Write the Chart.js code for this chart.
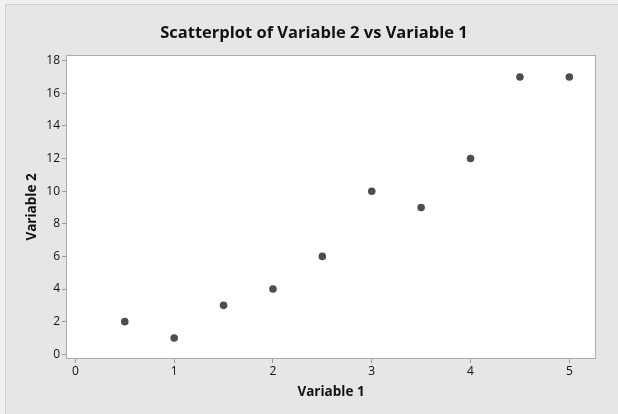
<!DOCTYPE html>
<html lang="en">
<head>
  <meta charset="UTF-8" />
  <title>Scatterplot of Variable 2 vs Variable 1</title>
  <script src="https://cdn.jsdelivr.net/npm/chart.js"></script>
  <style>
    html, body { margin: 0; padding: 0; background: #f0f0f0; overflow: hidden; }
    canvas { display: block; }
  </style>
</head>
<body>
  <canvas id="scatter" width="618" height="414"></canvas>

  <script>
    // data
    const var1 = [0.5, 1, 1.5, 2, 2.5, 3, 3.5, 4, 4.5, 5];
    const var2 = [2, 1, 3, 4, 6, 10, 9, 12, 17, 17];
    const xTicks = [0, 1, 2, 3, 4, 5];
    const yTicks = [0, 2, 4, 6, 8, 10, 12, 14, 16, 18];

    const frame = {
      id: "frame",
      beforeDraw(chart) {
        const { ctx, chartArea: a } = chart;
        ctx.save();
        // outer panel
        ctx.fillStyle = "#e6e6e6";
        ctx.fillRect(5, 4, chart.width, chart.height);
        ctx.strokeStyle = "#cfcfcf";
        ctx.lineWidth = 1;
        ctx.beginPath();
        ctx.moveTo(5.5, chart.height);
        ctx.lineTo(5.5, 4.5);
        ctx.lineTo(chart.width, 4.5);
        ctx.stroke();
        // plot area
        ctx.fillStyle = "#ffffff";
        ctx.fillRect(a.left, a.top, a.right - a.left, a.bottom - a.top);
        ctx.restore();
      },
      afterDatasetsDraw(chart) {
        const { ctx, chartArea: a } = chart;
        ctx.save();
        ctx.strokeStyle = "#ababab";
        ctx.lineWidth = 1;
        ctx.strokeRect(Math.round(a.left) + 0.5, Math.round(a.top) + 0.5,
          Math.round(a.right - a.left) - 1, Math.round(a.bottom - a.top) - 1);
        ctx.restore();
      }
    };

    const tickFont = { family: "'Open Sans', sans-serif", size: 12 };
    const titleFont = { family: "'Open Sans', sans-serif", size: 13.5, weight: "bold", lineHeight: 1.2 };

    const ctx = document.getElementById("scatter").getContext("2d");
    new Chart(ctx, {
      type: "scatter",
      data: {
        datasets: [{
          data: var1.map((x, i) => ({ x: x, y: var2[i] })),
          backgroundColor: "#4d4d4d",
          borderColor: "#4d4d4d",
          pointRadius: 3.8,
          borderWidth: 0
        }]
      },
      options: {
        responsive: false,
        animation: false,
        layout: { padding: { left: 10, right: 0, top: 0, bottom: 0 } },
        plugins: {
          legend: { display: false },
          tooltip: { enabled: false },
          title: {
            display: true,
            text: "Scatterplot of Variable 2 vs Variable 1",
            color: "#111111",
            font: { family: "'Open Sans', sans-serif", size: 16.5, weight: "bold", lineHeight: 1.2 },
            padding: { top: 23.5, bottom: 11.7 }
          }
        },
        scales: {
          x: {
            type: "linear",
            min: -0.095,
            max: 5.27,
            afterBuildTicks: s => { s.ticks = xTicks.map(v => ({ value: v })); },
            afterFit: s => { s.height = 55; },
            grid: { drawOnChartArea: false, drawTicks: true, tickLength: 4, color: "#9a9a9a" },
            border: { display: false },
            ticks: { color: "#111111", padding: 1, font: tickFont },
            title: {
              display: true,
              text: "Variable 1",
              color: "#111111",
              font: titleFont,
              padding: { top: 0, bottom: 14 }
            }
          },
          y: {
            type: "linear",
            min: -0.29,
            max: 18.35,
            afterBuildTicks: s => { s.ticks = yTicks.map(v => ({ value: v })); },
            afterFit: s => { s.width = 56; },
            grid: { drawOnChartArea: false, drawTicks: true, tickLength: 4, color: "#9a9a9a" },
            border: { display: false },
            ticks: { color: "#111111", padding: 2, font: tickFont },
            title: {
              display: true,
              text: "Variable 2",
              color: "#111111",
              font: titleFont,
              padding: { top: 14, bottom: 0 }
            }
          },
          y2: {
            type: "linear",
            position: "right",
            afterFit: s => { s.width = 22; },
            grid: { display: false },
            border: { display: false },
            ticks: { display: false }
          }
        }
      },
      plugins: [frame]
    });
  </script>
</body>
</html>
